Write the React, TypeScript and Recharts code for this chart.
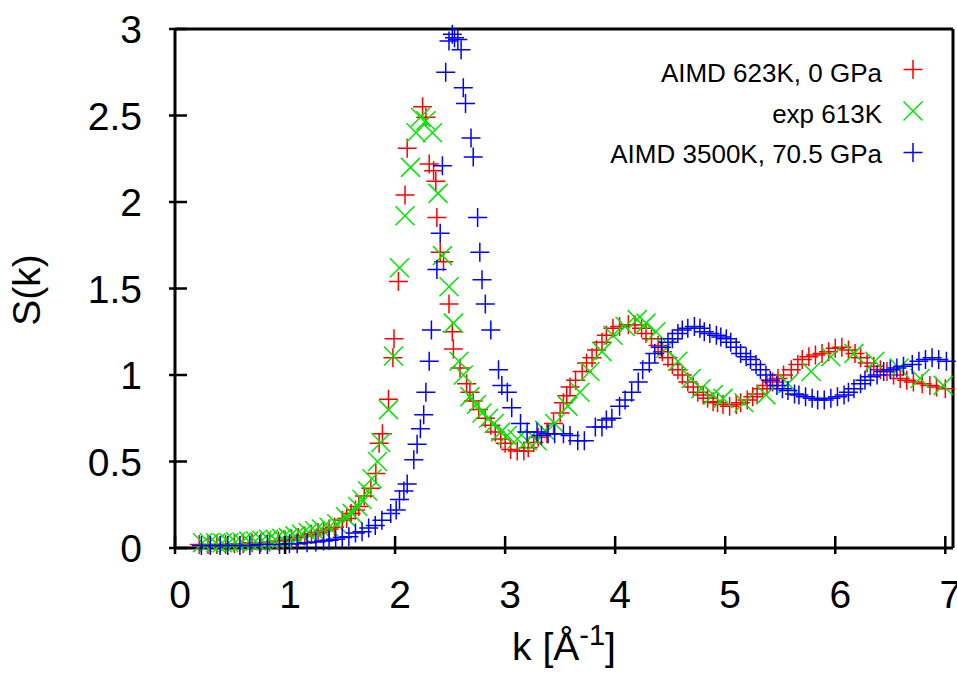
import { ScatterChart, Scatter, XAxis, YAxis } from 'recharts';

const xTicks = [0, 1, 2, 3, 4, 5, 6, 7];
const yTicks = [0, 0.5, 1, 1.5, 2, 2.5, 3];

// [k, S(k)]
const aimd623: [number, number][] = [
  [0.22, 0.02], [0.30, 0.02], [0.38, 0.02], [0.46, 0.02], [0.54, 0.025], [0.62, 0.025], [0.70, 0.03], [0.78, 0.03],
  [0.86, 0.035], [0.94, 0.04], [1.00, 0.045], [1.06, 0.05], [1.12, 0.06], [1.18, 0.07], [1.24, 0.08], [1.30, 0.09],
  [1.35, 0.10], [1.40, 0.11], [1.45, 0.12], [1.52, 0.16], [1.56, 0.17], [1.60, 0.20], [1.64, 0.22], [1.67, 0.24],
  [1.72, 0.30], [1.78, 0.345], [1.825, 0.43], [1.855, 0.605], [1.885, 0.66], [1.94, 0.86], [1.98, 1.10], [1.99, 1.21],
  [2.03, 1.54], [2.09, 2.04], [2.11, 2.31], [2.25, 2.55], [2.28, 2.49], [2.31, 2.22], [2.35, 2.18], [2.37, 2.12],
  [2.38, 1.91], [2.41, 1.71], [2.44, 1.655], [2.49, 1.41], [2.52, 1.25], [2.53, 1.15], [2.59, 1.04], [2.65, 0.95],
  [2.68, 0.90], [2.71, 0.85], [2.76, 0.80], [2.82, 0.75], [2.87, 0.71], [2.91, 0.67], [2.96, 0.63], [3.00, 0.605],
  [3.05, 0.57], [3.11, 0.56], [3.17, 0.56], [3.21, 0.58], [3.26, 0.61], [3.30, 0.64], [3.38, 0.66], [3.44, 0.72],
  [3.50, 0.78], [3.53, 0.84], [3.56, 0.88], [3.59, 0.93], [3.64, 0.97], [3.70, 1.02], [3.74, 1.07], [3.79, 1.10],
  [3.83, 1.145], [3.88, 1.19], [3.92, 1.23], [3.98, 1.27], [4.04, 1.28], [4.12, 1.29], [4.18, 1.29], [4.24, 1.27],
  [4.28, 1.24], [4.33, 1.21], [4.39, 1.17], [4.43, 1.135], [4.48, 1.10], [4.52, 1.06], [4.57, 1.03], [4.61, 1.00],
  [4.66, 0.96], [4.71, 0.93], [4.75, 0.90], [4.80, 0.885], [4.84, 0.865], [4.89, 0.845], [4.93, 0.84], [4.98, 0.83],
  [5.04, 0.82], [5.10, 0.83], [5.14, 0.84], [5.20, 0.855], [5.25, 0.875], [5.29, 0.89], [5.34, 0.92], [5.38, 0.94],
  [5.43, 0.96], [5.48, 0.98], [5.53, 1.00], [5.60, 1.03], [5.66, 1.06], [5.70, 1.09], [5.76, 1.105], [5.82, 1.115],
  [5.88, 1.125], [5.94, 1.135], [6.00, 1.155], [6.06, 1.16], [6.12, 1.145], [6.18, 1.125], [6.23, 1.10], [6.29, 1.07],
  [6.35, 1.05], [6.41, 1.03], [6.47, 1.02], [6.53, 1.00], [6.59, 0.98], [6.65, 0.97], [6.71, 0.96], [6.79, 0.95],
  [6.86, 0.94], [6.92, 0.93], [7.00, 0.92],
];

const exp613: [number, number][] = [
  [0.25, 0.03], [0.31, 0.03], [0.37, 0.03], [0.43, 0.03], [0.49, 0.03], [0.55, 0.035], [0.61, 0.035], [0.67, 0.04],
  [0.73, 0.04], [0.79, 0.045], [0.85, 0.05], [0.91, 0.05], [0.97, 0.055], [1.03, 0.06], [1.09, 0.07], [1.15, 0.08],
  [1.21, 0.09], [1.27, 0.10], [1.33, 0.11], [1.40, 0.12], [1.47, 0.14], [1.55, 0.18], [1.61, 0.20], [1.66, 0.24],
  [1.70, 0.28], [1.75, 0.33], [1.79, 0.40], [1.84, 0.50], [1.87, 0.61], [1.94, 0.80], [1.985, 1.11], [2.04, 1.62],
  [2.09, 1.92], [2.14, 2.20], [2.19, 2.40], [2.23, 2.49], [2.28, 2.47], [2.34, 2.40], [2.39, 2.05], [2.43, 1.69],
  [2.49, 1.51], [2.53, 1.30], [2.58, 1.08], [2.62, 1.00], [2.68, 0.875], [2.74, 0.83], [2.79, 0.78], [2.85, 0.75],
  [2.90, 0.72], [2.96, 0.67], [3.02, 0.65], [3.11, 0.63], [3.20, 0.62], [3.29, 0.62], [3.36, 0.68], [3.45, 0.72],
  [3.57, 0.82], [3.68, 0.90], [3.77, 1.02], [3.88, 1.135], [3.98, 1.23], [4.09, 1.28], [4.20, 1.32], [4.28, 1.30],
  [4.37, 1.25], [4.46, 1.155], [4.57, 1.08], [4.69, 0.98], [4.78, 0.92], [4.89, 0.885], [4.98, 0.865], [5.17, 0.84],
  [5.37, 0.885], [5.57, 0.95], [5.78, 1.02], [5.96, 1.105], [6.17, 1.125], [6.36, 1.08], [6.58, 1.04], [6.77, 0.98],
  [6.98, 0.94],
];

const aimd3500: [number, number][] = [
  [0.24, 0.015], [0.32, 0.015], [0.41, 0.015], [0.48, 0.015], [0.59, 0.015], [0.68, 0.015], [0.77, 0.02], [0.84, 0.02],
  [0.95, 0.02], [1.04, 0.025], [1.11, 0.025], [1.20, 0.03], [1.28, 0.035], [1.35, 0.04], [1.40, 0.045], [1.46, 0.05],
  [1.52, 0.06], [1.58, 0.065], [1.64, 0.087], [1.70, 0.094], [1.76, 0.115], [1.82, 0.13], [1.88, 0.16], [1.96, 0.20],
  [2.01, 0.22], [2.04, 0.28], [2.08, 0.33], [2.11, 0.37], [2.17, 0.51], [2.20, 0.60], [2.23, 0.69], [2.26, 0.77],
  [2.28, 0.90], [2.31, 1.08], [2.33, 1.26], [2.38, 1.61], [2.41, 1.82], [2.43, 2.21], [2.46, 2.75], [2.49, 2.93],
  [2.52, 2.97], [2.54, 2.95], [2.57, 2.94], [2.60, 2.88], [2.62, 2.66], [2.64, 2.57], [2.69, 2.37], [2.71, 2.26],
  [2.75, 1.91], [2.77, 1.71], [2.79, 1.55], [2.82, 1.41], [2.87, 1.26], [2.94, 1.03], [2.97, 0.94], [3.02, 0.90],
  [3.06, 0.81], [3.14, 0.72], [3.20, 0.67], [3.29, 0.67], [3.33, 0.65], [3.39, 0.66], [3.45, 0.66], [3.53, 0.66],
  [3.59, 0.65], [3.66, 0.62], [3.72, 0.62], [3.82, 0.70], [3.88, 0.70], [3.92, 0.74], [3.97, 0.75], [4.04, 0.82],
  [4.09, 0.855], [4.15, 0.90], [4.21, 0.96], [4.25, 1.03], [4.31, 1.07], [4.36, 1.125], [4.42, 1.16], [4.48, 1.19],
  [4.52, 1.21], [4.57, 1.24], [4.61, 1.26], [4.66, 1.27], [4.72, 1.28], [4.77, 1.27], [4.81, 1.25], [4.86, 1.24],
  [4.92, 1.23], [4.96, 1.22], [5.01, 1.21], [5.05, 1.19], [5.10, 1.16], [5.14, 1.125], [5.19, 1.105], [5.23, 1.09],
  [5.28, 1.06], [5.32, 1.03], [5.37, 1.00], [5.41, 0.97], [5.47, 0.94], [5.52, 0.92], [5.57, 0.91], [5.63, 0.89],
  [5.67, 0.885], [5.73, 0.875], [5.79, 0.865], [5.84, 0.855], [5.90, 0.855], [5.96, 0.865], [6.02, 0.875], [6.08, 0.885],
  [6.12, 0.90], [6.17, 0.92], [6.23, 0.95], [6.27, 0.97], [6.32, 0.99], [6.38, 1.00], [6.44, 1.02], [6.50, 1.03],
  [6.56, 1.04], [6.62, 1.05], [6.70, 1.06], [6.76, 1.08], [6.82, 1.09], [6.88, 1.10], [6.94, 1.09], [7.01, 1.08],
];

const seriesNames = ['AIMD 623K, 0 GPa', 'exp 613K', 'AIMD 3500K, 70.5 GPa'];
const seriesColors = ['#ff0000', '#00e800', '#0000ff'];
const seriesMarkers = ['plus', 'cross', 'plus'];
const seriesPoints = [aimd623, exp613, aimd3500];

const FONT = '"Liberation Sans", Arial, sans-serif';
const M = 9.5; // half size of a point marker

const markerPath = (kind: string, cx: number, cy: number) =>
  kind === 'plus'
    ? `M${cx - M},${cy}H${cx + M}M${cx},${cy - M}V${cy + M}`
    : `M${cx - M},${cy - M}L${cx + M},${cy + M}M${cx - M},${cy + M}L${cx + M},${cy - M}`;

const BottomTick = (props: any) => {
  const { x, y, payload } = props;
  return (
    <g>
      <line x1={x} y1={y} x2={x} y2={y - 18} stroke="#000" strokeWidth={2.5} />
      <text x={x + 5} y={y + 54} textAnchor="middle" fontSize={39} fontFamily={FONT} fill="#000">
        {payload.value}
      </text>
    </g>
  );
};

const TopTick = (props: any) => {
  const { x, y } = props;
  return <line x1={x} y1={y} x2={x} y2={y + 18} stroke="#000" strokeWidth={2.5} />;
};

const LeftTick = (props: any) => {
  const { x, y, payload } = props;
  return (
    <g>
      <line x1={x} y1={y} x2={x + 18} y2={y} stroke="#000" strokeWidth={2.5} />
      <text x={x - 27} y={y + 14} textAnchor="end" fontSize={39} fontFamily={FONT} fill="#000">
        {payload.value}
      </text>
    </g>
  );
};

const RightTick = (props: any) => {
  const { x, y } = props;
  return <line x1={x} y1={y} x2={x - 18} y2={y} stroke="#000" strokeWidth={2.5} />;
};

const axisLine = { stroke: '#000', strokeWidth: 3 };

const App = () => {
  return (
    <div style={{ position: 'absolute', left: 0, top: 0, width: 957, height: 674, background: '#fff' }}>
      <ScatterChart width={957} height={674} margin={{ top: 28, right: 3, bottom: 125, left: 174 }}>
        <XAxis
          type="number"
          dataKey="k"
          domain={[0, 7.07]}
          ticks={xTicks}
          interval={0}
          height={1}
          tickLine={false}
          tickMargin={0}
          axisLine={axisLine}
          tick={<BottomTick />}
        />
        <XAxis
          xAxisId="top"
          orientation="top"
          type="number"
          domain={[0, 7.07]}
          ticks={xTicks}
          interval={0}
          height={1}
          tickLine={false}
          tickMargin={0}
          axisLine={axisLine}
          tick={<TopTick />}
        />
        <YAxis
          type="number"
          dataKey="s"
          domain={[0, 3]}
          ticks={yTicks}
          interval={0}
          width={1}
          tickLine={false}
          tickMargin={0}
          axisLine={axisLine}
          tick={<LeftTick />}
        />
        <YAxis
          yAxisId="right"
          orientation="right"
          type="number"
          domain={[0, 3]}
          ticks={yTicks}
          interval={0}
          width={1}
          tickLine={false}
          tickMargin={0}
          axisLine={axisLine}
          tick={<RightTick />}
        />
        {seriesPoints.map((pts, i) => (
          <Scatter
            key={seriesNames[i]}
            name={seriesNames[i]}
            data={pts.map(([k, s]) => ({ k, s }))}
            isAnimationActive={false}
            shape={(p: any) => (
              <path d={markerPath(seriesMarkers[i], p.cx, p.cy)} stroke={seriesColors[i]} strokeWidth={1.5} fill="none" />
            )}
          />
        ))}
      </ScatterChart>
      <svg
        width={957}
        height={674}
        style={{ position: 'absolute', left: 0, top: 0, pointerEvents: 'none' }}
        fontFamily={FONT}
      >
        {seriesNames.map((name, i) => (
          <g key={name}>
            <text x={882} y={82 + i * 40.5} textAnchor="end" fontSize={26} fill="#000">
              {name}
            </text>
            <path d={markerPath(seriesMarkers[i], 913, 69.5 + i * 41.5)} stroke={seriesColors[i]} strokeWidth={1.5} fill="none" />
          </g>
        ))}
        <text x={40} y={290} transform="rotate(-90 40 290)" textAnchor="middle" fontSize={39} fill="#000">
          S(k)
        </text>
        <text x={564} y={660} textAnchor="middle" fontSize={39} fill="#000">
          k [Å
          <tspan fontSize={29} dy={-15}>-1</tspan>
          <tspan dy={15}>]</tspan>
        </text>
      </svg>
    </div>
  );
};

export default App;
